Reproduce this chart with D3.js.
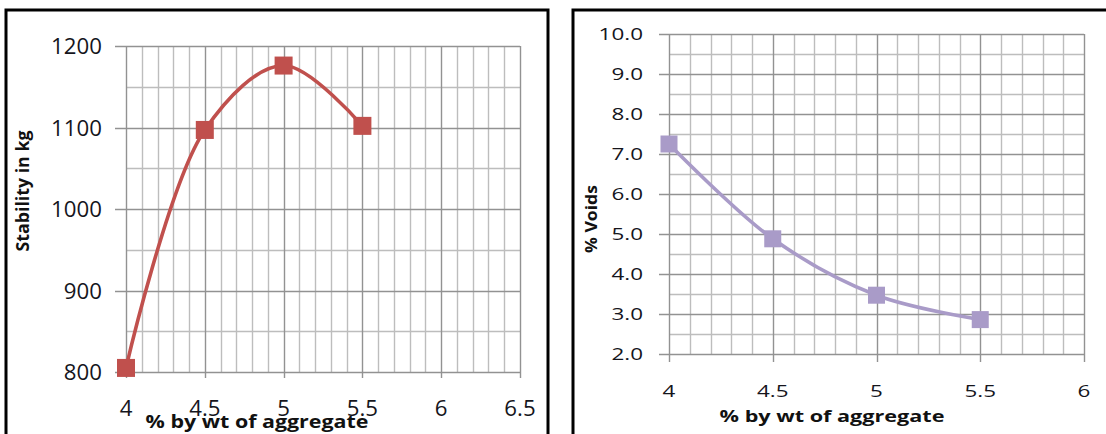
<!DOCTYPE html>
<html>
<head>
<meta charset="utf-8">
<script src="https://cdn.jsdelivr.net/npm/d3@7"></script>
<style>
  html, body { margin: 0; padding: 0; background: #fff; }
  svg { display: block; }
  text { font-family: "Open Sans", "DejaVu Sans", sans-serif; }
</style>
</head>
<body>
<svg id="chart" width="1106" height="434"></svg>
<script>
// ---------------- data ----------------
const binderContent = [4, 4.5, 5, 5.5];               // % by wt of aggregate
const stabilityKg   = [805, 1097, 1176, 1102];        // Stability in kg
const voidsPct      = [7.25, 4.88, 3.47, 2.86];       // % Voids

const stabXTicks = [4, 4.5, 5, 5.5, 6, 6.5];
const stabYTicks = [800, 900, 1000, 1100, 1200];
const voidXTicks = [4, 4.5, 5, 5.5, 6];
const voidYTicks = [2, 3, 4, 5, 6, 7, 8, 9, 10];

const xTitle = "% by wt of aggregate";
const stabYTitle = "Stability in kg";
const voidYTitle = "% Voids";

// ---------------- drawing ----------------
const svg = d3.select("#chart");

function stretchedText(g, x, y, str, opts) {
  const t = g.append("text")
    .attr("x", 0).attr("y", 0)
    .attr("text-anchor", opts.anchor || "middle")
    .attr("dominant-baseline", "central")
    .style("font-size", opts.size + "px")
    .style("font-weight", opts.weight || "normal")
    .style("fill", opts.fill || "#15151c")
    .text(str);
  let sx = opts.sx || 1;
  if (opts.width) {
    const len = t.node().getComputedTextLength();
    sx = opts.width / len;
  }
  const rot = opts.rotate ? ` rotate(${opts.rotate})` : "";
  t.attr("transform", `translate(${x},${y})${rot} scale(${sx},1)`);
  return t;
}

function panel(cfg) {
  const g = svg.append("g");
  const x = d3.scaleLinear().domain(cfg.xDomain).range(cfg.xRange);
  const y = d3.scaleLinear().domain(cfg.yDomain).range(cfg.yRange);

  // frame
  g.append("rect")
    .attr("x", cfg.frame[0]).attr("y", cfg.frame[1])
    .attr("width", cfg.frame[2]).attr("height", cfg.frame[3])
    .attr("fill", "none").attr("stroke", "#000").attr("stroke-width", 3);

  const eps = 1e-9;
  const xMinor = d3.range(cfg.xDomain[0], cfg.xDomain[1] + eps, cfg.xMinorStep).map(v => +v.toFixed(3));
  const yMinor = d3.range(cfg.yDomain[0], cfg.yDomain[1] + eps, cfg.yMinorStep).map(v => +v.toFixed(3));
  const isMajorX = v => Math.abs(v / cfg.xMajorStep - Math.round(v / cfg.xMajorStep)) < 1e-6;
  const isMajorY = v => Math.abs(v / cfg.yMajorStep - Math.round(v / cfg.yMajorStep)) < 1e-6;

  const grid = g.append("g");
  grid.selectAll(".vminor").data(xMinor.filter(v => !isMajorX(v))).join("line")
    .attr("x1", d => Math.round(x(d)) + 0.5).attr("x2", d => Math.round(x(d)) + 0.5)
    .attr("y1", y.range()[1]).attr("y2", y.range()[0])
    .attr("stroke", "#bdbdbd").attr("stroke-width", 1.4);
  grid.selectAll(".hminor").data(yMinor.filter(v => !isMajorY(v))).join("line")
    .attr("y1", d => Math.round(y(d)) + 0.5).attr("y2", d => Math.round(y(d)) + 0.5)
    .attr("x1", x.range()[0]).attr("x2", x.range()[1])
    .attr("stroke", "#bdbdbd").attr("stroke-width", 1.4);
  grid.selectAll(".vmajor").data(xMinor.filter(isMajorX)).join("line")
    .attr("x1", d => Math.round(x(d)) + 0.5).attr("x2", d => Math.round(x(d)) + 0.5)
    .attr("y1", y.range()[1]).attr("y2", y.range()[0] + cfg.xTickLen)
    .attr("stroke", "#929292").attr("stroke-width", 1.4);
  grid.selectAll(".hmajor").data(yMinor.filter(isMajorY)).join("line")
    .attr("y1", d => Math.round(y(d)) + 0.5).attr("y2", d => Math.round(y(d)) + 0.5)
    .attr("x1", x.range()[0] - cfg.yTickLen).attr("x2", x.range()[1])
    .attr("stroke", "#929292").attr("stroke-width", 1.4);

  // tick labels
  cfg.yTicks.forEach(v => {
    stretchedText(g, x.range()[0] - cfg.yLabelGap, y(v), cfg.yFormat(v),
      { anchor: "end", size: cfg.tickSize, sx: cfg.tickSx });
  });
  cfg.xTicks.forEach(v => {
    stretchedText(g, x(v), y.range()[0] + cfg.xLabelGap, cfg.xFormat(v),
      { anchor: "middle", size: cfg.tickSize, sx: cfg.tickSx });
  });

  // axis titles
  stretchedText(g, cfg.xTitlePos[0], cfg.xTitlePos[1], xTitle,
    { anchor: "middle", size: cfg.xTitleSize, weight: "bold", width: cfg.xTitleWidth, fill: "#111" });
  stretchedText(g, cfg.yTitlePos[0], cfg.yTitlePos[1], cfg.yTitle,
    { anchor: "middle", size: cfg.yTitleSize, weight: "bold", width: cfg.yTitleWidth, rotate: -90, fill: "#111" });

  // series
  const pts = binderContent.map((b, i) => [b, cfg.values[i]]);
  const line = d3.line().x(d => x(d[0])).y(d => y(d[1])).curve(d3.curveCatmullRom.alpha(0.5));
  g.append("path").datum(pts)
    .attr("d", line)
    .attr("fill", "none")
    .attr("stroke", cfg.color)
    .attr("stroke-width", 3.6)
    .attr("stroke-linejoin", "round");
  const ms = cfg.markerSize;
  g.selectAll(".mk").data(pts).join("rect")
    .attr("x", d => x(d[0]) - ms / 2)
    .attr("y", d => y(d[1]) - ms / 2)
    .attr("width", ms).attr("height", ms)
    .attr("fill", cfg.color);
}

panel({
  frame: [6, 10, 542, 440],
  xDomain: [4, 6.5], xRange: [126, 520],
  yDomain: [800, 1200], yRange: [372, 46],
  xMinorStep: 0.1, xMajorStep: 0.5,
  yMinorStep: 50, yMajorStep: 100,
  xTickLen: 6, yTickLen: 11,
  xTicks: stabXTicks, yTicks: stabYTicks,
  xFormat: d => String(d), yFormat: d => String(d),
  tickSize: 21, tickSx: 1.06,
  yLabelGap: 24, xLabelGap: 36,
  xTitlePos: [257, 421], xTitleSize: 18, xTitleWidth: 223,
  yTitle: stabYTitle, yTitlePos: [22, 191], yTitleSize: 17, yTitleWidth: 121,
  values: stabilityKg, color: "#c0504d", markerSize: 18
});

panel({
  frame: [573, 10, 540, 440],
  xDomain: [4, 6], xRange: [669, 1084],
  yDomain: [2, 10], yRange: [354, 34],
  xMinorStep: 0.1, xMajorStep: 0.5,
  yMinorStep: 0.5, yMajorStep: 1,
  xTickLen: 8, yTickLen: 10,
  xTicks: voidXTicks, yTicks: voidYTicks,
  xFormat: d => String(d), yFormat: d => d.toFixed(1),
  tickSize: 16.5, tickSx: 1.36,
  yLabelGap: 26, xLabelGap: 37,
  xTitlePos: [832, 416], xTitleSize: 16, xTitleWidth: 225,
  yTitle: voidYTitle, yTitlePos: [591, 219], yTitleSize: 16, yTitleWidth: 68,
  values: voidsPct, color: "#a99bc8", markerSize: 17
});
</script>
</body>
</html>
